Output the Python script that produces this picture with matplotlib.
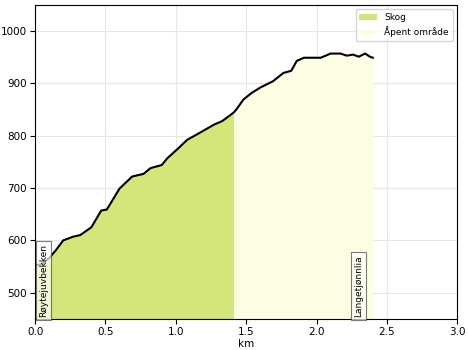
import matplotlib
matplotlib.use('Agg')
import matplotlib.pyplot as plt
import numpy as np

# profile data (km, m.o.h.)
km = [0.0, 0.05, 0.10, 0.15, 0.20, 0.27, 0.32, 0.40, 0.47, 0.51, 0.60, 0.69, 0.77,
      0.82, 0.90, 0.94, 1.01, 1.08, 1.16, 1.27, 1.33, 1.41, 1.43, 1.48, 1.54, 1.60,
      1.69, 1.765, 1.82, 1.86, 1.91, 1.955, 2.03, 2.10, 2.17, 2.215, 2.26, 2.30,
      2.345, 2.38, 2.40]
hoyde = [552, 555, 566, 582, 600, 607, 610, 625, 657, 659, 699, 722, 727,
         738, 744, 757, 774, 792, 804, 821, 828, 844, 850, 869, 882, 892,
         904, 920, 924, 943, 949, 949, 949, 957, 957, 953, 955, 951,
         957, 951, 949]
skog_slutt = 1.41
steder = ['Røytejuvbekken', 'Langetjønnlia']
steder_km = [0.06, 2.30]

km = np.array(km)
hoyde = np.array(hoyde)

fig, ax = plt.subplots(figsize=(4.68, 3.5), dpi=100)
fig.subplots_adjust(left=0.075, right=0.977, bottom=0.089, top=0.986)

bunn = 450
ax.fill_between(km, bunn, hoyde, where=km <= skog_slutt + 1e-9, color='#d4e57a', label='Skog', lw=0)
ax.fill_between(km, bunn, hoyde, where=km >= skog_slutt - 1e-9, color='#fdfde3', label='Åpent område', lw=0)
ax.plot(km, hoyde, 'k', lw=1.5)

for navn, x in zip(steder, steder_km):
    ax.text(x, bunn + 3, navn, rotation=90, ha='center', va='bottom', fontsize=6.5,
            bbox=dict(boxstyle='square,pad=0.35', fc='white', ec='#444444', lw=0.8, alpha=0.7))

ax.set_xlim(0, 3)
ax.set_ylim(450, 1050)
ax.set_yticks([500, 600, 700, 800, 900, 1000])
ax.grid(color='#e6e6e6', lw=0.8)
ax.set_axisbelow(True)
ax.tick_params(labelsize=7.5, pad=2.5)
ax.set_xlabel('km', fontsize=7.5, labelpad=1)
ax.legend(loc='upper right', fontsize=6.5)
plt.savefig('out.png', dpi=100)
